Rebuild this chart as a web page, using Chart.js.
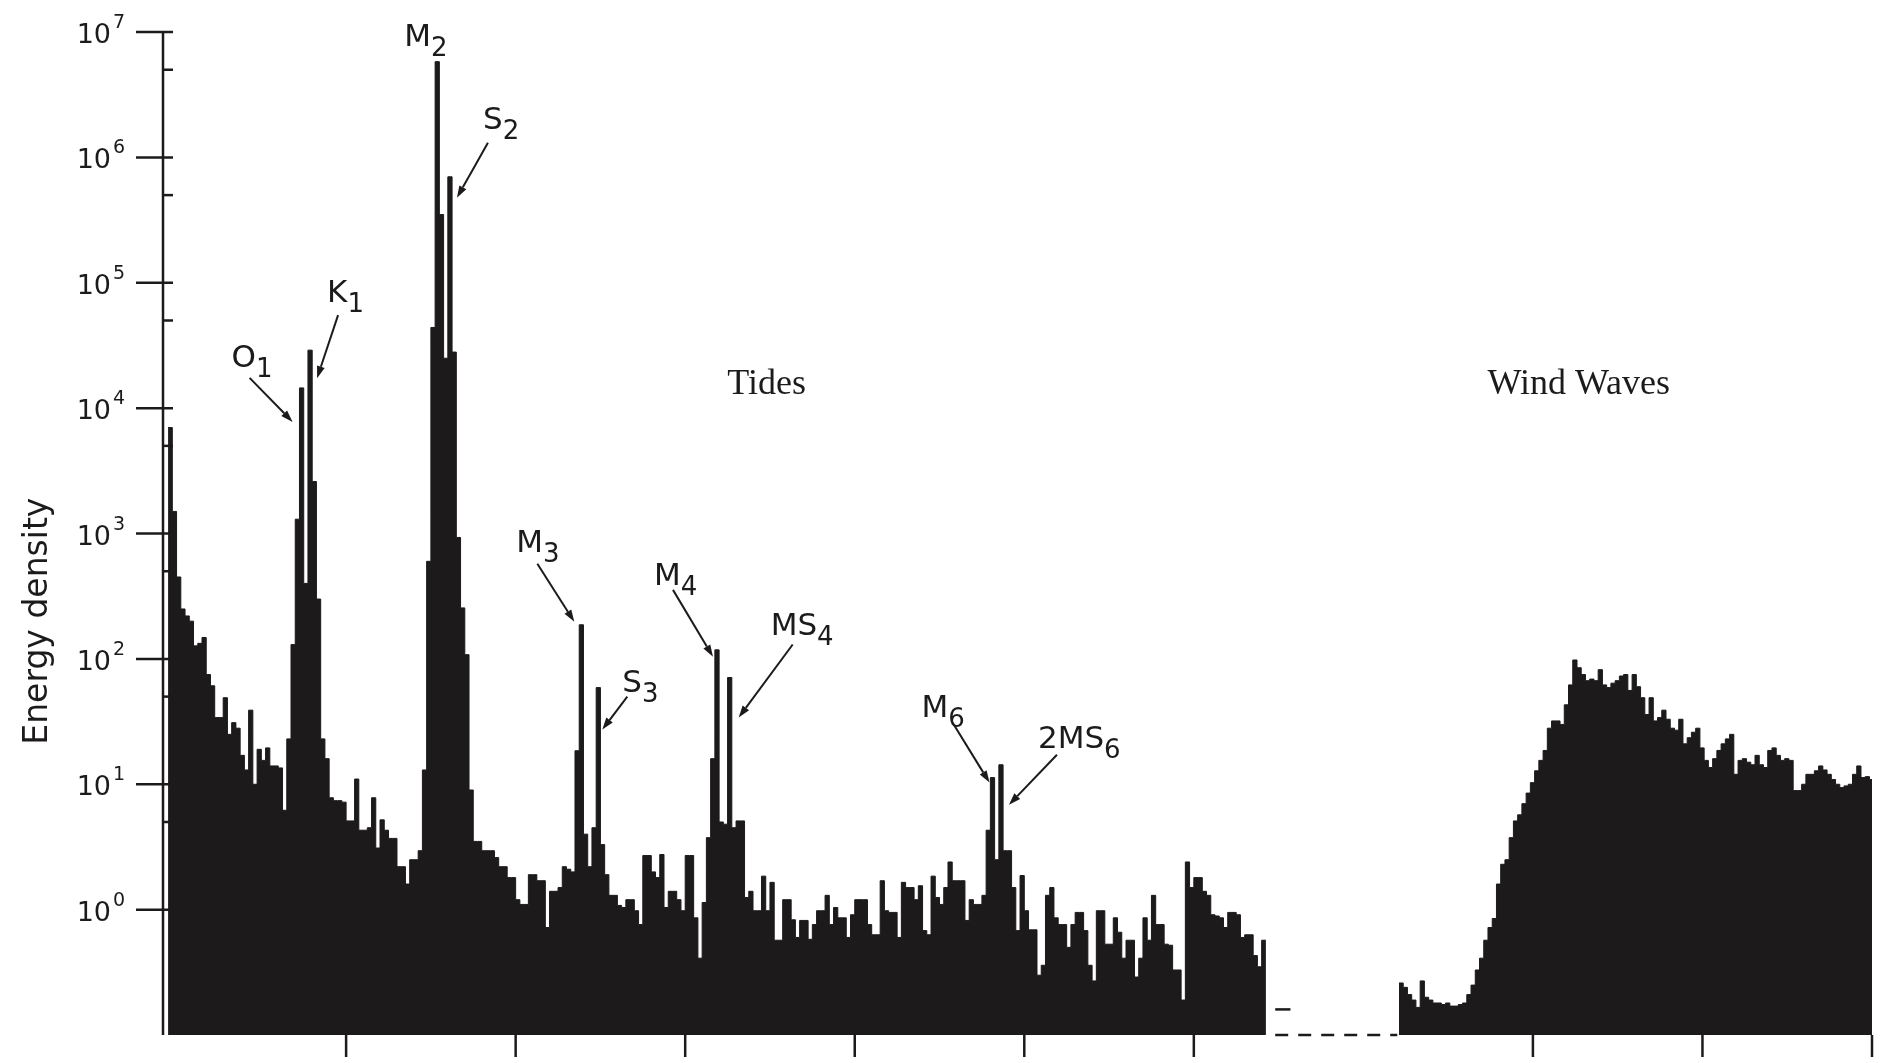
<!DOCTYPE html>
<html>
<head>
<meta charset="utf-8">
<script src="https://cdn.jsdelivr.net/npm/chart.js@4.4.0/dist/chart.umd.min.js"></script>
<style>
  html, body { margin: 0; padding: 0; background: #fff; }
  #wrap { position: relative; width: 1883px; height: 1063px; }
</style>
</head>
<body>
<div id="wrap"><canvas id="chart"></canvas></div>
<script>
const BIN_WIDTH = 0.025;
const TIDE_START = -0.05;
const WIND_START = 7.21;

// Energy density per bin, tides band (left part)
const tideEnergy = [
  7000, 1500, 450, 250, 220, 200, 127, 133, 148, 75,
  61, 34, 34, 49, 25, 31, 28, 17, 13, 39,
  10, 19, 15.5, 19.5, 14, 14, 13.5, 6.2, 23, 130,
  1300, 14500, 400, 29000, 2600, 300, 23, 16, 7.8, 7.4,
  7.4, 7.2, 5.1, 5.1, 11, 4.3, 4.3, 4.5, 7.8, 3.1,
  5.2, 4.3, 3.7, 3.7, 2.2, 2.2, 1.6, 2.5, 2.5, 2.95,
  13, 600, 44000, 5800000, 350000, 25000, 700000, 28000, 930, 255,
  108, 9, 3.5, 3.5, 2.95, 2.95, 2.95, 2.6, 2.2, 2.2,
  1.8, 1.8, 1.2, 1.1, 1.1, 1.9, 1.9, 1.7, 1.7, 0.72,
  1.4, 1.4, 1.5, 2.2, 2.1, 2.0, 18.5, 187, 4, 2.2,
  4.5, 59, 3.3, 1.9, 1.3, 1.3, 1.08, 1.04, 1.2, 1.2,
  0.98, 0.76, 2.7, 2.7, 2.0, 1.8, 2.75, 1.04, 1.4, 1.4,
  1.2, 0.98, 2.7, 2.7, 0.86, 0.41, 1.14, 3.75, 16, 118,
  5, 4.8, 71, 4.5, 5.1, 5.1, 1.25, 1.4, 0.98, 0.98,
  1.85, 0.98, 1.65, 0.57, 0.57, 1.2, 1.2, 0.83, 0.6, 0.82,
  0.82, 0.58, 0.76, 0.98, 0.98, 1.3, 0.76, 1.04, 0.86, 0.86,
  0.6, 0.91, 1.2, 1.2, 1.2, 0.76, 0.63, 0.63, 1.7, 0.98,
  0.95, 0.95, 0.6, 1.65, 1.5, 1.5, 1.2, 1.55, 0.68, 0.63,
  1.85, 1.25, 1.1, 1.5, 2.4, 1.7, 1.7, 1.7, 0.82, 1.2,
  1.1, 1.1, 1.3, 4.3, 11.3, 2.5, 14.3, 2.95, 2.95, 1.5,
  0.68, 1.87, 0.98, 0.69, 0.69, 0.30, 0.36, 1.3, 1.5, 0.86,
  0.76, 0.76, 0.50, 0.76, 0.95, 0.95, 0.68, 0.36, 0.27, 0.98,
  0.98, 0.53, 0.53, 0.86, 0.66, 0.41, 0.57, 0.57, 0.29, 0.41,
  0.86, 0.57, 1.3, 0.76, 0.76, 0.53, 0.52, 0.33, 0.33, 0.19,
  2.4, 1.5, 1.8, 1.8, 1.4, 1.3, 0.91, 0.89, 0.86, 0.72,
  0.95, 0.95, 0.91, 0.60, 0.63, 0.63, 0.43, 0.35, 0.57
];

// Energy density per bin, wind waves band (right part)
const windEnergy = [
  0.26, 0.24, 0.21, 0.19, 0.166, 0.27, 0.2, 0.19, 0.18, 0.18,
  0.175, 0.18, 0.17, 0.17, 0.175, 0.18, 0.21, 0.25, 0.33, 0.41,
  0.57, 0.72, 0.85, 1.6, 2.3, 2.5, 3.75, 5.1, 5.7, 7.0,
  8.5, 10.3, 12.8, 15.5, 18.6, 28, 32, 32, 30, 43,
  62, 98, 85, 75, 67, 69, 67, 82, 62, 59,
  64, 67, 73, 75, 56, 75, 60, 49, 36, 49,
  32, 34, 39, 33, 28, 27, 33, 21, 23.5, 26,
  28, 19.5, 15.5, 13.6, 16, 18.6, 21, 23, 25, 12,
  15.5, 16, 15, 14.3, 17, 14.3, 13.6, 18.6, 19.5, 17,
  15.5, 16, 15.5, 8.9, 8.9, 10, 12, 12, 12.8, 14,
  13, 12, 10.9, 10, 9.4, 9.7, 10, 12, 14, 11.3,
  11.5, 10.9
];

const X_TICKS = [1, 2, 3, 4, 5, 6, 8, 9, 10];
const Y_DECADES = [0, 1, 2, 3, 4, 5, 6, 7];
const Y_HALF_DECADES = [5, 50, 500, 5000, 50000, 500000, 5000000];

// break in the frequency axis
const GAP_FROM = 6.48;
const GAP_TO = 7.2;
const NOISE_TO = 6.57;
const NOISE_LEVEL = 0.16;

// peak labels: bin index in tideEnergy + pixel offsets from the peak top
const PEAKS = [
  { main: 'O', sub: '1', bin: 31, label: [-70, -21], tail: [-52, -10], tip: [-9, 34] },
  { main: 'K', sub: '1', bin: 33, label: [17, -48], tail: [28, -35], tip: [7, 28] },
  { main: 'M', sub: '2', bin: 63, label: [-33, -16] },
  { main: 'S', sub: '2', bin: 66, label: [33, -48], tail: [38, -34], tip: [7, 21] },
  { main: 'M', sub: '3', bin: 97, label: [-65, -73], tail: [-44, -61], tip: [-7, -3] },
  { main: 'S', sub: '3', bin: 101, label: [24, 4], tail: [29, 9], tip: [4, 42] },
  { main: 'M', sub: '4', bin: 129, label: [-63, -65], tail: [-44, -60], tip: [-4, 7] },
  { main: 'MS', sub: '4', bin: 132, label: [41, -43], tail: [63, -33], tip: [9, 40] },
  { main: 'M', sub: '6', bin: 194, label: [-71, -61], tail: [-40, -55], tip: [-3, 5] },
  { main: '2MS', sub: '6', bin: 196, label: [37, -17], tail: [56, -10], tip: [8, 40] }
];

const SECTIONS = [
  { text: 'Tides', x: 3.48, y: 13000 },
  { text: 'Wind Waves', x: 8.27, y: 13000 }
];

const INK = '#1c1a1a';

function toSteps(values, start) {
  const pts = values.map((v, i) => ({ x: start + i * BIN_WIDTH, y: v }));
  // closing edge of the last bin
  pts.push({ x: start + values.length * BIN_WIDTH, y: values[values.length - 1] });
  return pts;
}

function spectrumSet(values, start) {
  return {
    data: toSteps(values, start),
    stepped: true,
    fill: 'start',
    borderColor: INK,
    backgroundColor: INK,
    borderWidth: 1,
    pointRadius: 0
  };
}

function drawLine(ctx, x1, y1, x2, y2) {
  ctx.beginPath();
  ctx.moveTo(x1, y1);
  ctx.lineTo(x2, y2);
  ctx.stroke();
}

function drawArrow(ctx, x1, y1, x2, y2) {
  const ang = Math.atan2(y2 - y1, x2 - x1);
  const head = 12, half = 4;
  const bx = x2 - head * Math.cos(ang), by = y2 - head * Math.sin(ang);
  ctx.lineWidth = 2;
  drawLine(ctx, x1, y1, bx, by);
  ctx.beginPath();
  ctx.moveTo(x2, y2);
  ctx.lineTo(bx + half * Math.sin(ang), by - half * Math.cos(ang));
  ctx.lineTo(bx - half * Math.sin(ang), by + half * Math.cos(ang));
  ctx.closePath();
  ctx.fill();
}

const axesAndNotes = {
  id: 'axesAndNotes',
  afterDatasetsDraw(chart) {
    const { ctx, chartArea: a, scales: { x, y } } = chart;
    ctx.save();
    ctx.strokeStyle = INK;
    ctx.fillStyle = INK;
    ctx.lineWidth = 2.5;

    // energy axis
    drawLine(ctx, a.left, a.top, a.left, a.bottom);
    Y_DECADES.forEach(n => {
      const py = y.getPixelForValue(Math.pow(10, n));
      ctx.lineWidth = 2.5;
      drawLine(ctx, a.left - 27, py, a.left + 10, py);
      ctx.textBaseline = 'alphabetic';
      ctx.textAlign = 'right';
      ctx.font = '27px "DejaVu Sans"';
      ctx.fillText('10', a.left - 52, py + 11);
      ctx.textAlign = 'left';
      ctx.font = '19px "DejaVu Sans"';
      ctx.fillText(String(n), a.left - 50, py - 4);
    });
    Y_HALF_DECADES.forEach(v => {
      const py = y.getPixelForValue(v);
      ctx.lineWidth = 2.5;
      drawLine(ctx, a.left, py, a.left + 10, py);
    });

    // frequency ticks
    X_TICKS.forEach(u => {
      const px = x.getPixelForValue(u);
      ctx.lineWidth = 2.5;
      drawLine(ctx, px, a.bottom, px, a.bottom + 22);
    });

    // axis title
    ctx.save();
    ctx.translate(a.left - 125, y.getPixelForValue(200));
    ctx.rotate(-Math.PI / 2);
    ctx.textAlign = 'center';
    ctx.textBaseline = 'middle';
    ctx.font = '33px "DejaVu Sans"';
    ctx.fillText('Energy density', 0, 0);
    ctx.restore();

    // constituent labels
    PEAKS.forEach(p => {
      const px = x.getPixelForValue(TIDE_START + (p.bin + 0.5) * BIN_WIDTH);
      const py = y.getPixelForValue(tideEnergy[p.bin]);
      const lx = px + p.label[0], ly = py + p.label[1];
      ctx.textAlign = 'left';
      ctx.textBaseline = 'alphabetic';
      ctx.font = '31px "DejaVu Sans"';
      ctx.fillText(p.main, lx, ly);
      const w = ctx.measureText(p.main).width;
      ctx.font = '26px "DejaVu Sans"';
      ctx.fillText(p.sub, lx + w, ly + 10);
      if (p.tip) {
        drawArrow(ctx, px + p.tail[0], py + p.tail[1], px + p.tip[0], py + p.tip[1]);
      }
    });

    // band names
    ctx.textAlign = 'center';
    ctx.textBaseline = 'alphabetic';
    ctx.font = '36px "Liberation Serif"';
    SECTIONS.forEach(s => {
      ctx.fillText(s.text, x.getPixelForValue(s.x), y.getPixelForValue(s.y));
    });

    ctx.restore();
  }
};

new Chart(document.getElementById('chart').getContext('2d'), {
  type: 'line',
  data: {
    datasets: [
      spectrumSet(tideEnergy, TIDE_START),
      spectrumSet(windEnergy, WIND_START),
      {
        data: [{ x: GAP_FROM, y: 0.1 }, { x: GAP_TO, y: 0.1 }],
        borderColor: INK,
        borderWidth: 2.5,
        borderDash: [13, 10],
        pointRadius: 0,
        fill: false,
        clip: false
      },
      {
        data: [{ x: GAP_FROM, y: NOISE_LEVEL }, { x: NOISE_TO, y: NOISE_LEVEL }],
        borderColor: INK,
        borderWidth: 2.5,
        pointRadius: 0,
        fill: false
      }
    ]
  },
  options: {
    responsive: true,
    maintainAspectRatio: false,
    animation: false,
    devicePixelRatio: 1,
    layout: { padding: { left: 163, right: 11, top: 32, bottom: 28 } },
    plugins: {
      legend: { display: false },
      tooltip: { enabled: false }
    },
    scales: {
      x: { type: 'linear', min: -0.08, max: 10, display: false },
      y: { type: 'logarithmic', min: 0.1, max: 1e7, display: false }
    }
  },
  plugins: [axesAndNotes]
});
</script>
</body>
</html>
